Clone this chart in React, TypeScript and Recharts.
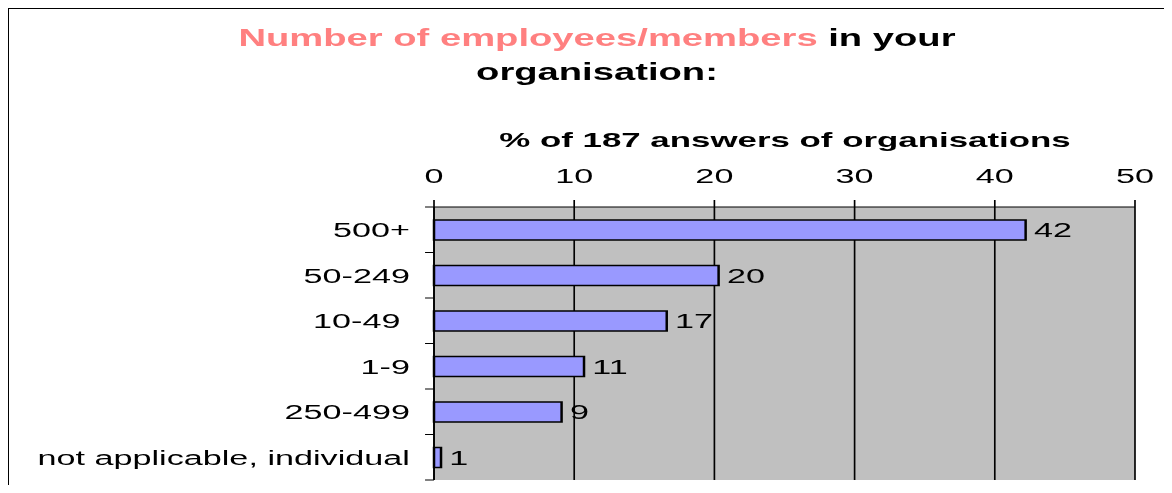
import React from "react";
import { BarChart, Bar, XAxis, YAxis, CartesianGrid, LabelList } from "recharts";

const categories = ["500+", "50-249", "10-49 ", "1-9", "250-499", "not applicable, individual"];
const shares = [42.2, 20.3, 16.6, 10.7, 9.1, 0.5];
const xTicks = [0, 10, 20, 30, 40, 50];

const data = categories.map((name, i) => ({ name, share: shares[i] }));

const S = 1.66; // horizontal stretch of the original picture
const W = 706;
const H = 493;
const FONT = '"Liberation Sans", Arial, sans-serif';
const FS = 20.6;
const M = { top: 167, right: 22.27, bottom: 13, left: 21.45 };
const XAXIS_H = 40;
const YAXIS_W = 240;
const AXIS_X = M.left + YAXIS_W;
const PLOT_H = H - M.top - XAXIS_H - M.bottom;
const BAND = PLOT_H / categories.length;

const CatTick = (props: any) => {
  const { y, payload, index } = props;
  const half = BAND / 2;
  return (
    <g>
      <text
        x={AXIS_X - 14.5}
        y={y}
        dy="0.355em"
        textAnchor="end"
        fontSize={FS}
        fontFamily={FONT}
        fill="#000"
        style={{ whiteSpace: "pre" }}
      >
        {payload.value}
      </text>
      <line x1={AXIS_X - 5.4} x2={AXIS_X} y1={y - half} y2={y - half} stroke="#000" strokeWidth={1} />
      {index === categories.length - 1 && (
        <line x1={AXIS_X - 5.4} x2={AXIS_X} y1={y + half} y2={y + half} stroke="#000" strokeWidth={1} />
      )}
    </g>
  );
};

export default function App() {
  return (
    <div style={{ position: "relative", margin: -8, width: 1172, height: 493, overflow: "hidden", background: "#fff" }}>
      <div
        style={{
          position: "absolute",
          left: 7,
          top: 7,
          width: 1400,
          height: 700,
          borderTop: "2px solid #000",
          borderLeft: "2px solid #000",
          boxSizing: "border-box",
        }}
      />
      <div
        style={{
          position: "absolute",
          left: 0,
          top: 0,
          width: W,
          height: H,
          transform: `scaleX(${S})`,
          transformOrigin: "0 0",
        }}
      >
        <div
          style={{
            position: "absolute",
            left: 597 / S - 300,
            width: 600,
            top: 21,
            textAlign: "center",
            fontFamily: FONT,
            fontWeight: "bold",
            fontSize: 23,
            lineHeight: "34px",
            color: "#000",
          }}
        >
          <span style={{ color: "#FF8080" }}>Number of employees/members</span> in your
          <br />
          organisation:
        </div>
        <div
          style={{
            position: "absolute",
            left: 785 / S - 300,
            width: 600,
            top: 129,
            textAlign: "center",
            fontFamily: FONT,
            fontWeight: "bold",
            fontSize: 21,
            lineHeight: "21px",
            color: "#000",
          }}
        >
          % of 187 answers of organisations
        </div>
        <div style={{ position: "absolute", left: 0, top: 0 }}>
          <BarChart layout="vertical" width={W} height={H} data={data} margin={M}>
            <CartesianGrid
              horizontal={false}
              vertical={true}
              stroke="#000"
              strokeWidth={1}
              fill="#C0C0C0"
              fillOpacity={1}
            />
            <XAxis
              type="number"
              orientation="top"
              domain={[0, 50]}
              ticks={xTicks}
              interval={0}
              height={XAXIS_H}
              tickSize={7}
              tickMargin={17}
              axisLine={{ stroke: "#000", strokeWidth: 1 }}
              tickLine={{ stroke: "#000", strokeWidth: 1 }}
              tick={{ fontSize: FS, fill: "#000", fontFamily: FONT }}
            />
            <XAxis
              xAxisId="b"
              type="number"
              orientation="bottom"
              domain={[0, 50]}
              height={0}
              tick={false}
              tickLine={false}
              axisLine={{ stroke: "#808080", strokeWidth: 2 }}
            />
            <YAxis
              type="category"
              dataKey="name"
              width={YAXIS_W}
              interval={0}
              tickLine={false}
              axisLine={{ stroke: "#000", strokeWidth: 1 }}
              tick={<CatTick />}
            />
            <YAxis
              yAxisId="r"
              type="category"
              dataKey="name"
              orientation="right"
              width={0}
              tick={false}
              tickLine={false}
              axisLine={{ stroke: "#808080", strokeWidth: 2.5 }}
            />
            <Bar
              dataKey="share"
              fill="#9999FF"
              stroke="#000"
              strokeWidth={1.5}
              barSize={20}
              isAnimationActive={false}
            >
              <LabelList
                dataKey="share"
                position="right"
                offset={5}
                formatter={(v: any) => Math.round(Number(v))}
                fill="#000"
                fontSize={FS}
                fontFamily={FONT}
              />
            </Bar>
          </BarChart>
        </div>
      </div>
    </div>
  );
}
